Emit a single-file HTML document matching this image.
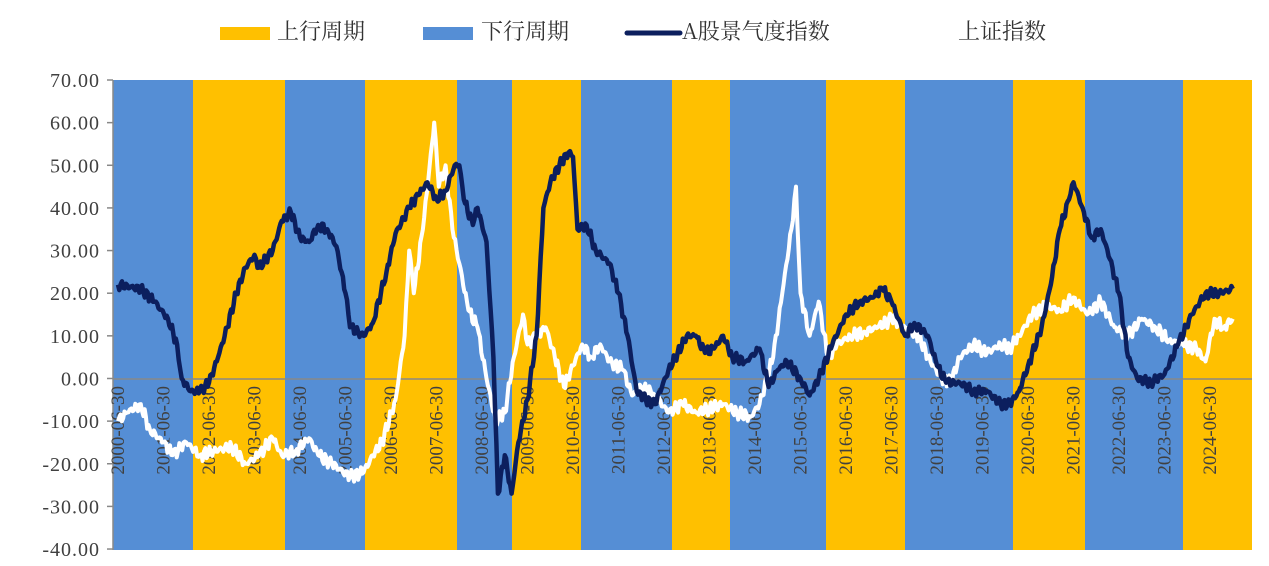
<!DOCTYPE html>
<html><head><meta charset="utf-8"><style>
body{margin:0;background:#fff;width:1269px;height:561px;overflow:hidden}
text{font-family:"Liberation Serif","Noto Serif CJK SC",serif;fill:#404040}
</style></head><body>
<svg id="s" width="1269" height="561" xmlns="http://www.w3.org/2000/svg">
<g id="bands"></g>
<line x1="113" y1="379" x2="1252" y2="379" stroke="#888" stroke-width="1.5"/>
<g id="axis"></g>
<polyline id="wl" fill="none" stroke="#fff" stroke-width="4" stroke-linejoin="round"/>
<polyline id="dl" fill="none" stroke="#0c1f5e" stroke-width="4.5" stroke-linejoin="round"/>
<rect x="220" y="27" width="50" height="13" fill="#ffc000"/>
<text x="277" y="39" font-size="22" style="font-family:'Noto Serif CJK SC',serif;fill:#333">上行周期</text>
<rect x="423" y="27" width="50" height="13" fill="#558ed5"/>
<text x="481" y="39" font-size="22" style="font-family:'Noto Serif CJK SC',serif;fill:#333">下行周期</text>
<line x1="627" y1="33" x2="680" y2="33" stroke="#0c1f5e" stroke-width="5" stroke-linecap="round"/>
<text x="682" y="39" font-size="22" style="font-family:'Noto Serif CJK SC',serif;fill:#333">A股景气度指数</text>
<text x="958" y="39" font-size="22" style="font-family:'Noto Serif CJK SC',serif;fill:#333">上证指数</text>
</svg>
<script>
var NS="http://www.w3.org/2000/svg";
function el(t,a,p,txt){var e=document.createElementNS(NS,t);for(var k in a)e.setAttribute(k,a[k]);if(txt)e.textContent=txt;document.getElementById(p).appendChild(e);return e;}
var B=[113,193,285,365,457,512,581,672,730,826,905,1013,1085,1183,1252];
for(var i=0;i<B.length-1;i++)el("rect",{x:B[i],y:80,width:B[i+1]-B[i],height:470,fill:i%2?"#ffc000":"#558ed5"},"bands");
function Y(v){return 80+(70-v)*4.264;}
function X(t){return 118+(t-2000.5)*45.5;}
el("line",{x1:113,y1:80,x2:113,y2:550,stroke:"#888","stroke-width":1.5},"axis");
for(var v=70;v>=-40;v-=10){var y=Y(v);el("line",{x1:107,y1:y,x2:113,y2:y,stroke:"#888","stroke-width":1.5},"axis");
el("text",{x:100,y:y+7,"font-size":20,"text-anchor":"end","letter-spacing":"1"},"axis",v.toFixed(2));}
for(var yr=2000;yr<=2024;yr++){var x=X(yr+0.5)+6;el("text",{x:0,y:0,"font-size":19,"text-anchor":"end",transform:"translate("+x+",386) rotate(-90)"},"axis",yr+"-06-30");}
var D=[2000.5,22,2001.0,21,2001.3,18,2001.6,14,2001.8,8,2001.9,0,2002.1,-3,2002.3,-3,2002.5,-1,2002.7,5,2002.9,12,2003.1,20,2003.3,26,2003.5,29,2003.6,26,2003.9,30,2004.1,37,2004.3,39,2004.5,33,2004.7,32,2004.9,36,2005.1,35,2005.3,31,2005.5,20,2005.6,12,2005.9,10,2006.1,13,2006.4,25,2006.6,34,2006.9,40,2007.1,43,2007.3,46,2007.5,42,2007.7,44,2007.9,50,2008.0,50,2008.1,42,2008.3,36,2008.4,40,2008.6,32,2008.75,5,2008.85,-27,2009.0,-18,2009.15,-27,2009.3,-15,2009.5,-5,2009.7,10,2009.85,40,2010.0,46,2010.2,50,2010.4,53,2010.5,52,2010.6,35,2010.8,36,2011.0,30,2011.3,27,2011.5,20,2011.7,10,2011.9,-3,2012.1,-5,2012.3,-6,2012.6,2,2012.8,6,2013.0,10,2013.2,10,2013.4,6,2013.6,7,2013.8,10,2014.0,5,2014.3,4,2014.6,7,2014.8,-2,2015.0,2,2015.2,4,2015.5,0,2015.7,-4,2015.9,0,2016.2,8,2016.5,15,2016.8,18,2017.1,19,2017.3,21,2017.5,18,2017.8,10,2018.0,13,2018.3,10,2018.5,3,2018.7,-1,2019.0,-1,2019.3,-3,2019.6,-3,2019.9,-6,2020.1,-6,2020.3,-3,2020.5,3,2020.8,12,2021.0,22,2021.2,35,2021.4,42,2021.5,46,2021.7,40,2021.9,33,2022.1,35,2022.3,28,2022.5,20,2022.7,5,2022.9,0,2023.2,-1,2023.5,1,2023.8,8,2024.1,15,2024.4,20,2024.7,20,2025.0,21];
var W=[2000.5,-10,2000.7,-8,2001.0,-6,2001.2,-12,2001.5,-15,2001.7,-18,2002.0,-15,2002.3,-18,2002.6,-17,2003.0,-16,2003.3,-20,2003.6,-18,2003.9,-14,2004.1,-18,2004.4,-17,2004.7,-14,2004.9,-18,2005.2,-20,2005.6,-23,2005.9,-22,2006.1,-18,2006.3,-15,2006.6,-5,2006.8,10,2006.9,30,2007.0,20,2007.2,35,2007.4,55,2007.45,60,2007.55,45,2007.7,50,2007.85,35,2008.0,27,2008.2,16,2008.4,12,2008.6,0,2008.8,-10,2009.0,-8,2009.2,5,2009.4,15,2009.5,8,2009.7,10,2009.9,12,2010.1,5,2010.3,-2,2010.5,3,2010.7,8,2010.9,5,2011.1,8,2011.3,4,2011.6,2,2011.8,-4,2012.0,-2,2012.3,-4,2012.6,-8,2012.9,-6,2013.2,-8,2013.5,-7,2013.8,-6,2014.1,-8,2014.4,-9,2014.6,-6,2014.9,5,2015.1,20,2015.3,35,2015.4,45,2015.5,20,2015.7,10,2015.9,18,2016.1,5,2016.3,8,2016.6,10,2016.9,11,2017.2,12,2017.5,14,2017.8,12,2018.1,10,2018.3,5,2018.6,0,2018.8,-1,2019.0,5,2019.3,8,2019.6,6,2019.9,8,2020.1,7,2020.3,10,2020.6,15,2020.9,17,2021.2,16,2021.5,19,2021.8,15,2022.1,18,2022.4,12,2022.7,10,2023.0,14,2023.3,12,2023.6,9,2023.9,8,2024.2,7,2024.4,4,2024.6,14,2024.8,12,2025.0,14];
function pts(a,amp,seed){var s=[];var n=0;
for(var i=0;i<a.length-2;i+=2){var t0=a[i],v0=a[i+1],t1=a[i+2],v1=a[i+3];var steps=Math.max(1,Math.round((t1-t0)/0.03));
for(var k=0;k<steps;k++){var f=k/steps;var t=t0+(t1-t0)*f;var v=v0+(v1-v0)*f;n++;
if(k>0)v+=amp*(Math.sin(n*1.7+seed)+0.6*Math.sin(n*4.3+seed*2));
s.push(Math.min(X(t),1251).toFixed(1)+","+Y(v).toFixed(1));}}
s.push(Math.min(X(a[a.length-2]),1251).toFixed(1)+","+Y(a[a.length-1]).toFixed(1));
return s.join(" ");}
document.getElementById("dl").setAttribute("points",pts(D,0.8,1));
document.getElementById("wl").setAttribute("points",pts(W,1.0,3));
</script>
</body></html>
